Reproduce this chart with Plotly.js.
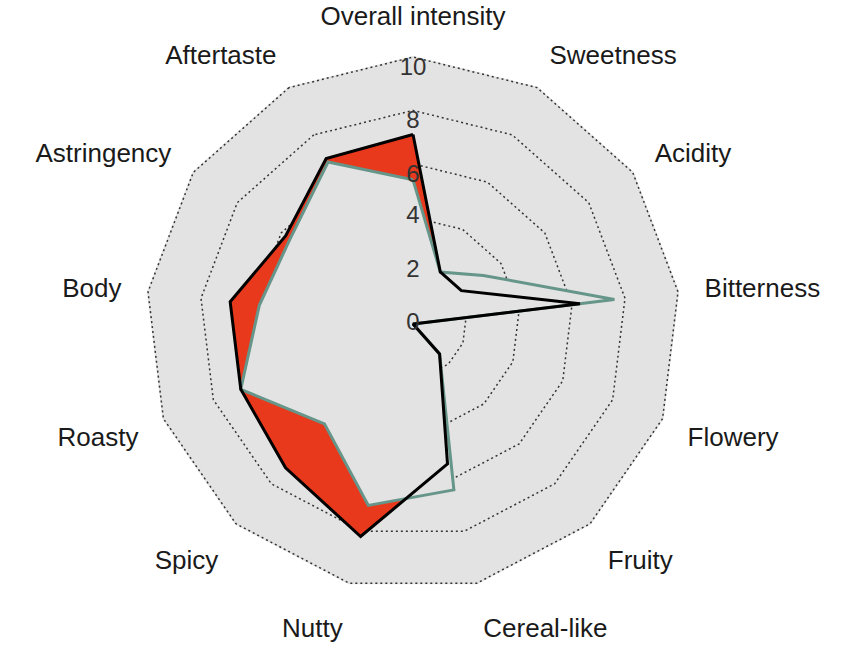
<!DOCTYPE html>
<html>
<head>
<meta charset="utf-8">
<script src="https://cdn.plot.ly/plotly-3.0.1.min.js"></script>
<style>html,body{margin:0;padding:0;background:#fff;}#chart{width:852px;height:645px;}</style>
</head>
<body>
<div id="chart"></div>
<script>
const categories = ['Overall intensity','Sweetness','Acidity','Bitterness','Flowery','Fruity','Cereal-like','Nutty','Spicy','Roasty','Body','Astringency','Aftertaste'];
const sampleBlack = [7.1, 2.2, 2.2, 6.3, 0, 1.5, 5.4, 8.2, 7.2, 6.9, 6.9, 5.8, 7.0];
const sampleGreen = [5.4, 2.2, 3.2, 7.6, 0, 1.5, 6.4, 7.0, 5.0, 6.9, 5.8, 5.6, 6.85];
const radialTicks = [0, 2, 4, 6, 8, 10];
const radialTickLabels = ['0', '2', '4', '6', '8', '10'];

const close = a => a.concat([a[0]]);
const bg = '#e3e3e3';
const red = '#e8391d';
const green = '#66958a';

const traces = [
  { type: 'scatterpolar', r: close(sampleBlack), theta: close(categories), mode: 'lines',
    fill: 'toself', fillcolor: red, line: { color: red, width: 0.5 }, hoverinfo: 'skip' },
  { type: 'scatterpolar', r: close(sampleGreen), theta: close(categories), mode: 'lines',
    fill: 'toself', fillcolor: bg, line: { color: green, width: 3 }, hoverinfo: 'skip' },
  { type: 'scatterpolar', r: close(sampleBlack), theta: close(categories), mode: 'lines',
    line: { color: '#000', width: 3 }, hoverinfo: 'skip' },
  { type: 'scatterpolar', r: radialTicks, theta: radialTicks.map(() => categories[0]),
    mode: 'text', text: radialTickLabels, cliponaxis: false,
    textposition: ['middle center','middle center','middle center','bottom center','bottom center','bottom center'],
    textfont: { family: 'Liberation Sans, Arial, sans-serif', size: 24, color: '#333' }, hoverinfo: 'skip' }
];

const layout = {
  width: 852, height: 645,
  margin: { l: 0, r: 0, t: 0, b: 0 },
  paper_bgcolor: '#fff',
  showlegend: false,
  polar: {
    domain: { x: [0.1702, 0.7993], y: [0.0822, 0.9132] },
    bgcolor: bg,
    gridshape: 'linear',
    radialaxis: {
      range: [-0.001, 10.04], tickvals: radialTicks, showticklabels: false, ticks: '',
      showline: false, gridcolor: '#333', griddash: '2px,3px', gridwidth: 1.5,
      layer: 'above traces'
    },
    angularaxis: {
      type: 'category', categoryorder: 'array', categoryarray: categories,
      direction: 'clockwise', rotation: 90,
      showgrid: false, showline: false,
      ticks: 'outside', ticklen: 20, tickcolor: 'rgba(0,0,0,0)',
      tickfont: { family: 'Liberation Sans, Arial, sans-serif', size: 26, color: '#1a1a1a' },
      layer: 'above traces'
    }
  }
};

Plotly.newPlot('chart', traces, layout, { displayModeBar: false, staticPlot: true }).then(() => {
  // make sure the label at the pole is not hidden by the inside-range check
  document.querySelectorAll('.textpoint, .textpoint text').forEach(el => {
    el.style.display = '';
    el.removeAttribute('display');
  });
});
</script>
</body>
</html>
